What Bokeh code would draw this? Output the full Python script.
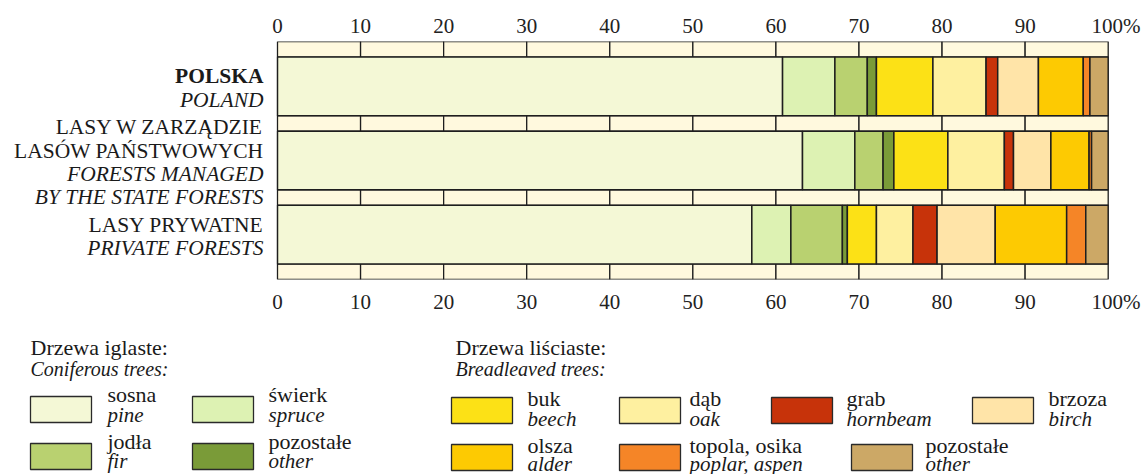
import numpy as np
from bokeh.plotting import figure
from bokeh.layouts import column
from bokeh.models import Range1d, FixedTicker, LinearAxis
from bokeh.embed import file_html
from bokeh.resources import INLINE

# ---------------- data ----------------
species_pl = ["sosna", "świerk", "jodła", "pozostałe", "buk", "dąb", "grab",
              "brzoza", "olsza", "topola, osika", "pozostałe"]
species_en = ["pine", "spruce", "fir", "other", "beech", "oak", "hornbeam",
              "birch", "alder", "poplar, aspen", "other"]
species_colors = ["#F4F8D6", "#DDF2B3", "#B9D170", "#7A9B38", "#FCE116", "#FEF0A0",
                  "#C7330A", "#FFE4A8", "#FDCA02", "#F58527", "#CCA866"]

regions = ["POLSKA", "LASY W ZARZĄDZIE LP", "LASY PRYWATNE"]
polska = [60.8, 6.3, 3.9, 1.1, 6.8, 6.4, 1.4, 4.9, 5.4, 0.8, 2.2]
lasy_panstwowe = [63.2, 6.3, 3.4, 1.3, 6.5, 6.8, 1.1, 4.5, 4.6, 0.3, 2.0]
lasy_prywatne = [57.1, 4.7, 6.2, 0.6, 3.5, 4.4, 2.9, 7.0, 8.6, 2.3, 2.7]
region_values = [polska, lasy_panstwowe, lasy_prywatne]

label_lines = [
    (0, "POLSKA", "bold"), (0, "POLAND", "italic"),
    (1, "LASY W ZARZĄDZIE", "normal"), (1, "LASÓW PAŃSTWOWYCH", "normal"),
    (1, "FORESTS MANAGED", "italic"), (1, "BY THE STATE FORESTS", "italic"),
    (2, "LASY PRYWATNE", "normal"), (2, "PRIVATE FORESTS", "italic"),
]

x_ticks = [0, 10, 20, 30, 40, 50, 60, 70, 80, 90, 100]

conif_idx = [0, 1, 2, 3]
broad_idx = [4, 5, 6, 7, 8, 9, 10]

# ---------------- style / layout ----------------
FONT = "Liberation Serif"
FS = "21px"
FS_CAT = "21.5px"
FS_LEG = "22px"
FS_LEG_IT = "21px"
FS_HEAD_IT = "20px"
TXT_SHIFT = -7          # baseline correction in px
W = 1143
BORDER_TOP = 41
FRAME_H = 238
BORDER_BOTTOM = 45
H1 = BORDER_TOP + FRAME_H + BORDER_BOTTOM
H2 = 150
BAR_H = 0.79
STRIP_H = 0.21
LINE = "#1e1e1e"

y_lo = -0.5 - STRIP_H / 2
y_hi = len(regions) - 0.5 + STRIP_H / 2
PX_PER_UNIT = FRAME_H / (y_hi - y_lo)

X0_PX, X100_PX = 277.0, 1107.7
sx = (X100_PX - X0_PX) / 100.0
x_start = -X0_PX / sx
x_end = 100 + (W - X100_PX) / sx

p = figure(width=W, frame_height=FRAME_H, output_backend="svg", toolbar_location=None,
           x_range=Range1d(x_start, x_end), y_range=Range1d(y_hi, y_lo),
           x_axis_location=None, y_axis_location=None,
           min_border_left=0, min_border_right=0, min_border_top=BORDER_TOP,
           min_border_bottom=BORDER_BOTTOM)
p.outline_line_color = None
p.grid.visible = False
p.background_fill_color = "white"

overrides = {t: str(t) for t in x_ticks}
overrides[100] = "\u00a0\u00a0\u00a0100%"
for loc in ("above", "below"):
    ax = LinearAxis(ticker=FixedTicker(ticks=x_ticks),
                    major_label_overrides=overrides)
    ax.axis_line_color = None
    ax.major_tick_line_color = None
    ax.minor_tick_line_color = None
    ax.major_tick_out = 0
    ax.major_tick_in = 0
    ax.major_label_text_font = FONT
    ax.major_label_text_font_size = FS
    ax.major_label_text_color = "#222222"
    ax.major_label_standoff = 4 if loc == "above" else 10
    p.add_layout(ax, loc)

# tick strips (scale bands) between bars
sl, sr, sb, st = [], [], [], []
for s in range(len(regions) + 1):
    yc = s - 0.5
    for a, b in zip(x_ticks[:-1], x_ticks[1:]):
        sl.append(a); sr.append(b)
        sb.append(yc + STRIP_H / 2); st.append(yc - STRIP_H / 2)
p.quad(left=sl, right=sr, bottom=sb, top=st, fill_color="#FFF9DE",
       line_color=LINE, line_width=1.3)

# stacked bars
bl, br, by, bc = [], [], [], []
for r, vals in enumerate(region_values):
    cum = np.concatenate([[0], np.cumsum(vals)])
    for k in range(len(vals)):
        bl.append(cum[k]); br.append(cum[k + 1]); by.append(r); bc.append(species_colors[k])
p.hbar(y=by, left=bl, right=br, height=BAR_H, fill_color=bc,
       line_color=LINE, line_width=1.5)

# category labels (right aligned left of the bars)
counts = {}
for r, _, _ in label_lines:
    counts[r] = counts.get(r, 0) + 1
seen = {}
groups = {}
for r, txt, style in label_lines:
    k = seen.get(r, 0); seen[r] = k + 1
    n = counts[r]
    off = 8.7 + TXT_SHIFT + (k - (n - 1) / 2) * 23.3
    g = groups.setdefault(style, {"x": [], "y": [], "t": []})
    g["x"].append(-14 / sx)
    g["y"].append(r + off / PX_PER_UNIT)
    g["t"].append(txt)
for style, g in groups.items():
    p.text(x=g["x"], y=g["y"], text=g["t"], text_align="right",
           text_baseline="alphabetic", text_font={"value": FONT},
           text_font_size=FS_CAT, text_font_style=style, text_color="#1a1a1a")

# ---------------- legend figure ----------------
OY = H1 - TXT_SHIFT   # used for texts
OYB = H1              # used for boxes
lg = figure(width=W, height=H2, output_backend="svg", toolbar_location=None,
            x_range=Range1d(0, W), y_range=Range1d(H2, 0),
            x_axis_location=None, y_axis_location=None,
            min_border=0)
lg.outline_line_color = None
lg.grid.visible = False

# headers
hx = [30, 30, 455, 455]
hy = [354, 375, 354, 375]
ht = ["Drzewa iglaste:", "Coniferous trees:", "Drzewa liściaste:", "Breadleaved trees:"]
hs = ["normal", "italic", "normal", "italic"]
hf = [FS_LEG, FS_HEAD_IT, FS_LEG, FS_HEAD_IT]
for x, y, t, s, f in zip(hx, hy, ht, hs, hf):
    lg.text(x=[x], y=[y - OY], text=[t], text_font={"value": FONT},
            text_font_size=f, text_font_style=s, text_baseline="alphabetic",
            text_color="#1a1a1a")

# legend entries: (species index, box x, row, text x)
entries = [
    (0, 30, 0, 107), (1, 192, 0, 268), (2, 30, 1, 107), (3, 192, 1, 268),
    (4, 451, 0, 527), (5, 619, 0, 689), (6, 771, 0, 846), (7, 972, 0, 1048),
    (8, 451, 1, 527), (9, 619, 1, 689), (10, 851, 1, 925),
]
box_top_conif = [396, 443]
box_top_broad = [397, 444]
txt_base_conif = [(401, 421), (448, 467)]
txt_base_broad = [(405, 425), (452, 470)]
BW, BH = 61, 26

lx0, lx1, ly0, ly1, lcol = [], [], [], [], []
pl_x, pl_y, pl_t, en_x, en_y, en_t = [], [], [], [], [], []
for si, bx, row, tx in entries:
    conif = si in conif_idx
    top = (box_top_conif if conif else box_top_broad)[row]
    b1, b2 = (txt_base_conif if conif else txt_base_broad)[row]
    lx0.append(bx); lx1.append(bx + BW)
    ly0.append(top - OYB); ly1.append(top + BH - OYB)
    lcol.append(species_colors[si])
    pl_x.append(tx); pl_y.append(b1 - OY); pl_t.append(species_pl[si])
    en_x.append(tx); en_y.append(b2 - OY); en_t.append(species_en[si])

lg.quad(left=lx0, right=lx1, top=ly0, bottom=ly1, fill_color=lcol,
        line_color="#2a2a2a", line_width=1.3)
lg.text(x=pl_x, y=pl_y, text=pl_t, text_font={"value": FONT}, text_font_size=FS_LEG,
        text_baseline="alphabetic", text_color="#1a1a1a")
lg.text(x=en_x, y=en_y, text=en_t, text_font={"value": FONT}, text_font_size=FS_LEG_IT,
        text_font_style="italic", text_baseline="alphabetic", text_color="#1a1a1a")

layout = column(p, lg, spacing=0)
open("out.html", "w").write(file_html(layout, INLINE))
